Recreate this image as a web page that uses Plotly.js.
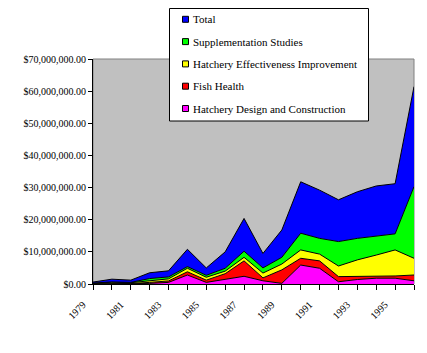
<!DOCTYPE html>
<html>
<head>
<meta charset="utf-8">
<script src="https://cdn.plot.ly/plotly-3.0.1.min.js"></script>
<style>html,body{margin:0;padding:0;background:#fff;}#chart{width:427px;height:353px;}</style>
</head>
<body>
<div id="chart"></div>
<script>
const years = [1979,1980,1981,1982,1983,1984,1985,1986,1987,1988,1989,1990,1991,1992,1993,1994,1995,1996];
const tickLabels = ['1979','','1981','','1983','','1985','','1987','','1989','','1991','','1993','','1995',''];

const seriesNames = ['Hatchery Design and Construction','Fish Health','Hatchery Effectiveness Improvement','Supplementation Studies','Total'];
const seriesColors = ['#ff00ff','#ff0000','#ffff00','#00ff00','#0000ff'];

const hatcheryDesign = [0.05,0.1,0.1,0.2,0.5,2.8,0.5,1.5,2.4,1.0,0.2,5.9,4.9,0.7,1.4,1.8,1.8,1.0];
const fishHealth = [0.05,0.1,0.05,0.3,0.45,1.0,0.7,1.7,4.8,0.9,4.2,2.1,2.3,1.6,0.9,0.7,0.7,1.8];
const effectiveness = [0.1,0.35,0.25,0.6,0.65,1.1,0.9,0.8,1.1,1.5,1.8,2.6,2.1,3.3,5.2,6.5,8.1,5.2];
const supplementation = [0.1,0.1,0.1,0.6,0.6,0.5,0.6,0.9,1.9,1.6,2.1,5.2,4.9,7.6,6.7,5.9,5.0,22.3];
const total = [0.3,0.85,0.7,1.8,1.9,5.4,2.3,5.1,10.2,4.5,8.5,16.0,15.0,13.0,14.5,15.6,15.6,31.1];

const valuesMillions = [hatcheryDesign, fishHealth, effectiveness, supplementation, total];

const traces = valuesMillions.map((vals, i) => ({
  type: 'scatter',
  mode: 'lines',
  stackgroup: 'one',
  x: years,
  y: vals.map(v => v * 1e6),
  name: seriesNames[i],
  line: {color: '#000000', width: 1},
  fillcolor: seriesColors[i],
  showlegend: false,
  hoverinfo: 'skip'
}));

// plot area in pixels
const L = 93, R = 414, T = 59, B = 284;
const px2x = p => (p - L) / (R - L);
const py2y = p => (B - p) / (B - T);

const shapes = [
  {type: 'rect', xref: 'paper', yref: 'paper', x0: 0, x1: 1, y0: 0, y1: 1,
   line: {color: '#808080', width: 1}, layer: 'below'},
  {type: 'rect', xref: 'paper', yref: 'paper', x0: px2x(169.5), x1: px2x(368.5), y0: py2y(121), y1: py2y(8.5),
   line: {color: '#000000', width: 1}, fillcolor: '#ffffff', layer: 'above'}
];
const annotations = [];
const legendOrder = [4,3,2,1,0];
legendOrder.forEach((si, k) => {
  const cy = 19.3 + k * 22.3;
  shapes.push({type: 'rect', xref: 'paper', yref: 'paper',
    x0: px2x(182.5), x1: px2x(188.5), y0: py2y(cy + 3), y1: py2y(cy - 3),
    line: {color: '#000000', width: 1}, fillcolor: seriesColors[si], layer: 'above'});
  annotations.push({xref: 'paper', yref: 'paper', x: px2x(190.5), y: py2y(cy),
    xanchor: 'left', yanchor: 'middle', showarrow: false, text: seriesNames[si],
    font: {family: 'Liberation Serif, Times New Roman, serif', size: 11, color: '#000000'}});
});

const tickFont = {family: 'Liberation Serif, Times New Roman, serif', size: 10, color: '#000000'};

const layout = {
  width: 427, height: 353,
  margin: {l: L, r: 427 - R, t: T, b: 353 - B, pad: 0},
  paper_bgcolor: '#ffffff',
  plot_bgcolor: '#c0c0c0',
  showlegend: false,
  xaxis: {
    type: 'linear', range: [1979, 1996], tickmode: 'array', tickvals: years, ticktext: tickLabels,
    tickangle: -45, ticks: 'outside', ticklen: 5, tickwidth: 1, tickcolor: '#000000',
    ticklabelshift: -10, ticklabelstandoff: 5,
    showline: true, linecolor: '#000000', linewidth: 1, showgrid: false, zeroline: false,
    tickfont: tickFont, fixedrange: true
  },
  yaxis: {
    range: [0, 70e6], dtick: 1e7, tick0: 0, tickformat: '$,.2f',
    ticks: 'outside', ticklen: 4, tickwidth: 1, tickcolor: '#000000',
    showline: true, linecolor: '#000000', linewidth: 1, showgrid: false, zeroline: false,
    tickfont: tickFont, fixedrange: true
  },
  shapes: shapes,
  annotations: annotations
};

Plotly.newPlot('chart', traces, layout, {staticPlot: true});
</script>
</body>
</html>
